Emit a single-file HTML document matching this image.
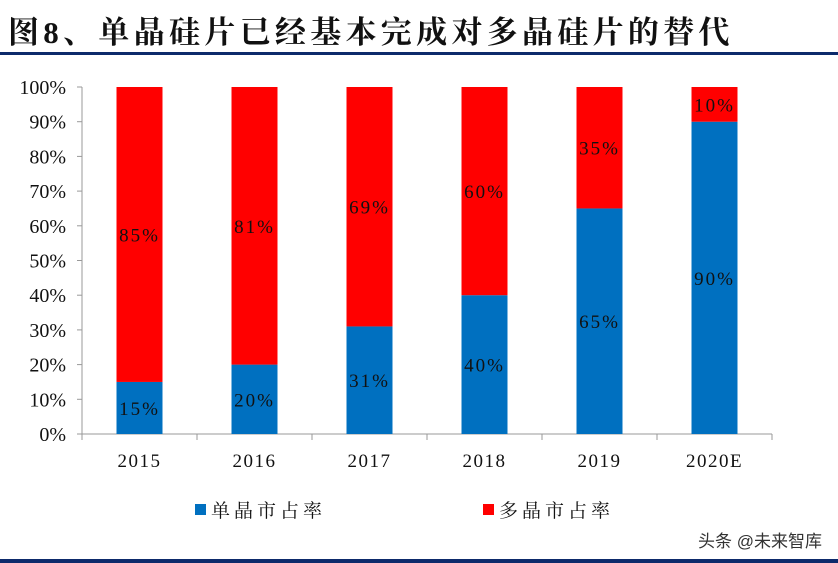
<!DOCTYPE html>
<html><head><meta charset="utf-8"><style>
body{margin:0;background:#fff;width:838px;height:563px;overflow:hidden;position:relative;font-family:"Liberation Serif","Noto Serif CJK SC",serif}
#title{position:absolute;left:8px;top:7px;font-size:31px;font-weight:bold;letter-spacing:4.3px;color:#111;white-space:nowrap;font-family:"Liberation Serif","Noto Serif CJK SC",serif}
.line{position:absolute;left:0;width:838px;background:#0d2a6b}
#wm{position:absolute;right:16px;top:527px;font-family:"Liberation Sans","Noto Sans CJK SC",sans-serif;font-size:17px;color:#333}
</style></head><body>
<div id="title">图8、单晶硅片已经基本完成对多晶硅片的替代</div>
<div class="line" style="top:52px;height:3px"></div>
<div class="line" style="top:559px;height:4px"></div>
<svg id="chart" width="838" height="563" style="position:absolute;left:0;top:0"></svg>
<div id="wm">头条 @未来智库</div>
<script>
const categories=["2015","2016","2017","2018","2019","2020E"];
const monoValues=[15,20,31,40,65,90];
const multiValues=[85,81,69,60,35,10];
const yTicks=[0,10,20,30,40,50,60,70,80,90,100];
const NS="http://www.w3.org/2000/svg";
const svg=document.getElementById('chart');
const x0=82,bandW=115,barW=46,y0=434,y100=87;
const y=v=>y0-(y0-y100)*v/100;
const xc=i=>x0+bandW*(i+0.5);
function mk(t,a){const e=document.createElementNS(NS,t);for(const k in a)e.setAttribute(k,a[k]);svg.appendChild(e);return e;}
const ax=mk('line',{x1:x0,y1:y100,x2:x0,y2:y0,stroke:'#999'});


const bx=mk('line',{x1:x0,y1:y0,x2:x0+bandW*categories.length,y2:y0,stroke:'#999'});


yTicks.forEach(v=>{
 mk('line',{x1:x0-5,y1:y(v),x2:x0,y2:y(v),stroke:'#999'});
 const t=mk('text',{x:x0-16,y:y(v)+7,'text-anchor':'end','font-size':20,fill:'#111'});
 t.textContent=v+'%';
 
 
});
for(let i=0;i<=categories.length;i++)mk('line',{x1:x0+bandW*i,y1:y0,x2:x0+bandW*i,y2:y0+6,stroke:'#999'});
categories.forEach((c,i)=>{
 const cx=xc(i),m=monoValues[i],p=multiValues[i];
 const top=Math.min(100,m+p);
 const r1=mk('rect',{x:cx-barW/2,y:y(m),width:barW,height:y0-y(m),fill:'#0070c0'});
 
 
 const r2=mk('rect',{x:cx-barW/2,y:y(top),width:barW,height:y(m)-y(top),fill:'#ff0000'});
 
 
 const l1=mk('text',{x:cx,y:(y(m)+y0)/2+7,'text-anchor':'middle','font-size':19,fill:'#111','letter-spacing':'2'});
 l1.textContent=m+'%';
 
 
 const l2=mk('text',{x:cx,y:(y(m)+y(top))/2+7,'text-anchor':'middle','font-size':19,fill:'#111','letter-spacing':'2'});
 l2.textContent=p+'%';
 
 
 const xt=mk('text',{x:cx,y:467,'text-anchor':'middle','font-size':19,fill:'#111','letter-spacing':'1.5'});
 xt.textContent=c;
 
 
});
const leg=[["单晶市占率","#0070c0",195],["多晶市占率","#ff0000",483]];
leg.forEach(([n,col,lx])=>{
 const s=mk('rect',{x:lx,y:504,width:11,height:11,fill:col});
 
 
 const t=mk('text',{x:lx+16,y:517,'font-size':19,fill:'#111','letter-spacing':'4'});
 t.textContent=n;
 
 
});
</script>
</body></html>
